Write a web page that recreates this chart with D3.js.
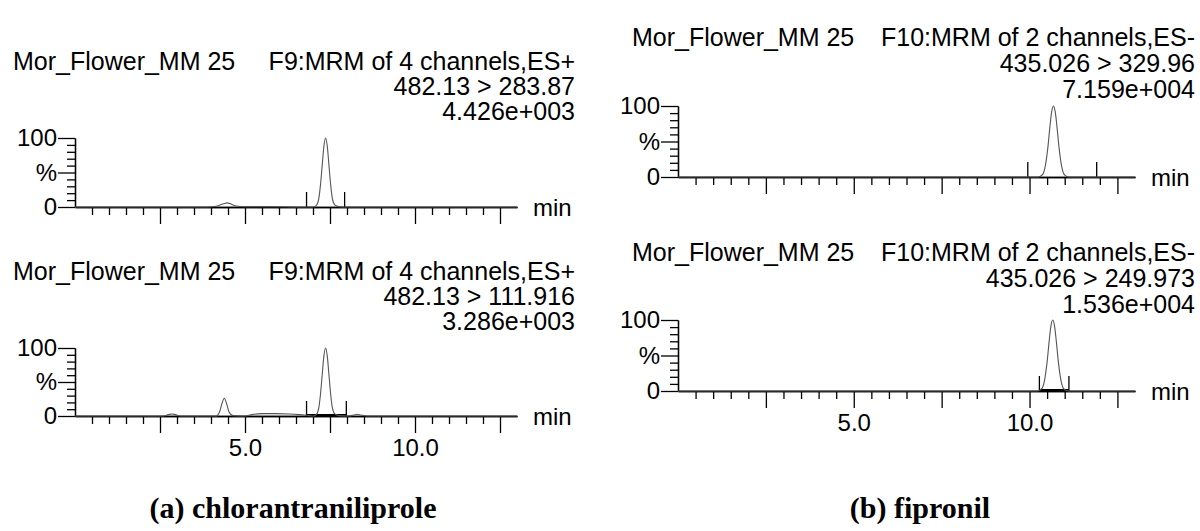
<!DOCTYPE html>
<html>
<head>
<meta charset="utf-8">
<script src="https://cdn.jsdelivr.net/npm/d3@7"></script>
<style>
body { margin: 0; background: #fff; }
svg { display: block; }
</style>
</head>
<body>
<div id="chart"></div>
<script>
// chromatogram traces: retention time (min) and relative intensity (%)
var a1Time = [0, 3.9, 4.15, 4.3, 4.4, 4.47, 4.55, 4.65, 4.8, 5.0, 5.6, 6.2, 6.5, 7.0, 7.1, 7.17, 7.22, 7.27, 7.32, 7.37, 7.42, 7.47, 7.52, 7.57, 7.64, 7.75, 7.9, 13.0]
var a1Int  = [0, 0, 1, 3.5, 5, 6, 5.2, 3, 1, 0.5, 0.5, 0.3, 0, 0, 2.5, 12, 32, 60, 88, 100, 88, 60, 32, 12, 3, 0.5, 0, 0]

var a2Time = [0, 2.6, 2.75, 2.85, 2.95, 3.1, 4.15, 4.25, 4.32, 4.39, 4.46, 4.53, 4.65, 5.0, 5.2, 5.5, 5.9, 6.3, 6.6, 6.9, 7.0, 7.1, 7.17, 7.22, 7.27, 7.32, 7.37, 7.42, 7.47, 7.52, 7.57, 7.64, 7.75, 8.05, 8.2, 8.3, 8.4, 8.6, 13.0]
var a2Int  = [0, 0, 2, 3, 2, 0, 0, 6, 18, 26, 18, 6, 0.5, 0, 2, 3.5, 3.5, 3, 2, 0.5, 0, 2.5, 12, 32, 60, 88, 100, 88, 60, 32, 12, 3, 0.5, 0, 1.5, 2.5, 1.5, 0, 0]

var b1Time = [0, 10.2, 10.28, 10.38, 10.45, 10.52, 10.58, 10.63, 10.68, 10.73, 10.78, 10.84, 10.91, 10.98, 11.08, 11.2, 13.0]
var b1Int  = [0, 0, 0.4, 4, 16, 41, 71, 92, 100, 92, 71, 41, 16, 4, 0.4, 0, 0]

var b2Time = [0, 10.18, 10.26, 10.36, 10.43, 10.5, 10.56, 10.61, 10.66, 10.71, 10.76, 10.82, 10.89, 10.96, 11.06, 11.2, 13.0]
var b2Int  = [0, 0, 0.4, 4, 16, 41, 71, 92, 100, 92, 71, 41, 16, 4, 0.4, 0, 0]

// integration markers (min)
var a1Marks = [6.81, 7.93]
var a2Marks = [6.81, 7.98]
var b1Marks = [9.95, 11.91]
var b2Marks = [10.28, 11.12]

// header texts
var sampleName = "Mor_Flower_MM 25"
var a1Head = ["F9:MRM of 4 channels,ES+", "482.13 > 283.87", "4.426e+003"]
var a2Head = ["F9:MRM of 4 channels,ES+", "482.13 > 111.916", "3.286e+003"]
var b1Head = ["F10:MRM of 2 channels,ES-", "435.026 > 329.96", "7.159e+004"]
var b2Head = ["F10:MRM of 2 channels,ES-", "435.026 > 249.973", "1.536e+004"]

var captions = ["(a) chlorantraniliprole", "(b) fipronil"]

// ticks
var xMajorTicks = [2.5, 5, 7.5, 10, 12.5]
var xLabelTicks = [5, 10]
var yMajorTicks = [0, 50, 100]
var yLabels = {0: "0", 50: "%", 100: "100"}

var width = 1200, height = 531

var svg = d3.select("#chart").append("svg")
    .attr("width", width)
    .attr("height", height)

// panel layout
var charts = [
    {time: a1Time, value: a1Int, marks: a1Marks, head: a1Head, x0: 75, x1: 517, yt: 138, yb: 207, textL: 13, textR: 575, base: 120, gap: 25, labels: false, bold: false},
    {time: a2Time, value: a2Int, marks: a2Marks, head: a2Head, x0: 75, x1: 517, yt: 348, yb: 416, textL: 13, textR: 575, base: 330, gap: 25, labels: true, bold: true},
    {time: b1Time, value: b1Int, marks: b1Marks, head: b1Head, x0: 678, x1: 1135, yt: 106, yb: 177, textL: 632, textR: 1195, base: 98, gap: 26, labels: false, bold: false},
    {time: b2Time, value: b2Int, marks: b2Marks, head: b2Head, x0: 678, x1: 1135, yt: 320, yb: 391, textL: 632, textR: 1195, base: 313, gap: 26, labels: true, bold: true}
]

var font = "'Liberation Sans', Arial, sans-serif"

charts.forEach(function(c) {
    var g = svg.append("g")
    var x = d3.scaleLinear().domain([0, 13]).range([c.x0, c.x1])
    var y = d3.scaleLinear().domain([0, 100]).range([c.yb, c.yt])

    // header
    g.append("text").attr("x", c.textL).attr("y", c.base - 2 * c.gap)
        .style("font", "25px " + font).text(sampleName)
    c.head.forEach(function(t, i) {
        g.append("text").attr("x", c.textR).attr("y", c.base - (2 - i) * c.gap)
            .attr("text-anchor", "end")
            .style("font", "25px " + font).text(t)
    })

    // y axis
    var yMinor = d3.range(0, 101, 10).filter(function(d) { return yMajorTicks.indexOf(d) < 0 })
    g.append("g").attr("transform", "translate(" + c.x0 + ",0)")
        .call(d3.axisLeft(y).tickValues(yMinor).tickSize(8).tickSizeOuter(0).tickFormat(""))
    var ya = g.append("g").attr("transform", "translate(" + c.x0 + ",0)")
        .call(d3.axisLeft(y).tickValues(yMajorTicks).tickSize(17).tickSizeOuter(0).tickPadding(1)
            .tickFormat(function(d) { return yLabels[d] }))
    ya.selectAll("text").style("font", "24px " + font).attr("fill", "#000")

    // x axis
    var xMinor = d3.range(0.5, 13, 0.5).filter(function(d) { return xMajorTicks.indexOf(d) < 0 })
    g.append("g").attr("transform", "translate(0," + c.yb + ")")
        .call(d3.axisBottom(x).tickValues(xMinor).tickSize(8).tickSizeOuter(0).tickFormat(""))
    var xa = g.append("g").attr("transform", "translate(0," + c.yb + ")")
        .call(d3.axisBottom(x).tickValues(xMajorTicks).tickSize(17).tickSizeOuter(0).tickPadding(6)
            .tickFormat(function(d) { return c.labels && xLabelTicks.indexOf(d) >= 0 ? d3.format(".1f")(d) : "" }))
    xa.selectAll("text").style("font", "24px " + font).attr("fill", "#000")

    svg.selectAll(".domain, .tick line").attr("stroke", "#000").attr("stroke-width", 1.3)

    g.append("text").attr("x", c.x1 + 16).attr("y", c.yb + 9)
        .style("font", "24px " + font).text("min")

    // integration markers
    g.selectAll(".mark").data(c.marks).enter().append("line")
        .attr("x1", function(d) { return x(d) }).attr("x2", function(d) { return x(d) })
        .attr("y1", c.yb).attr("y2", c.yb - 15)
        .attr("stroke", "#000").attr("stroke-width", 1.3)
    if (c.bold) {
        g.append("line")
            .attr("x1", x(c.marks[0])).attr("x2", x(c.marks[1]))
            .attr("y1", c.yb - 1).attr("y2", c.yb - 1)
            .attr("stroke", "#000").attr("stroke-width", 2)
    }

    // trace
    var line = d3.line()
        .x(function(d, i) { return x(c.time[i]) })
        .y(function(d) { return y(d) })
        .curve(d3.curveMonotoneX)
    g.append("path").datum(c.value)
        .attr("d", line)
        .attr("fill", "none")
        .attr("stroke", "#555")
        .attr("stroke-width", 1.1)
})

// captions
svg.selectAll(".caption").data(captions).enter().append("text")
    .attr("x", function(d, i) { return i == 0 ? 293 : 920 })
    .attr("y", 518)
    .attr("text-anchor", "middle")
    .style("font", "bold 30px 'Liberation Serif', 'Times New Roman', serif")
    .text(function(d) { return d })
</script>
</body>
</html>
